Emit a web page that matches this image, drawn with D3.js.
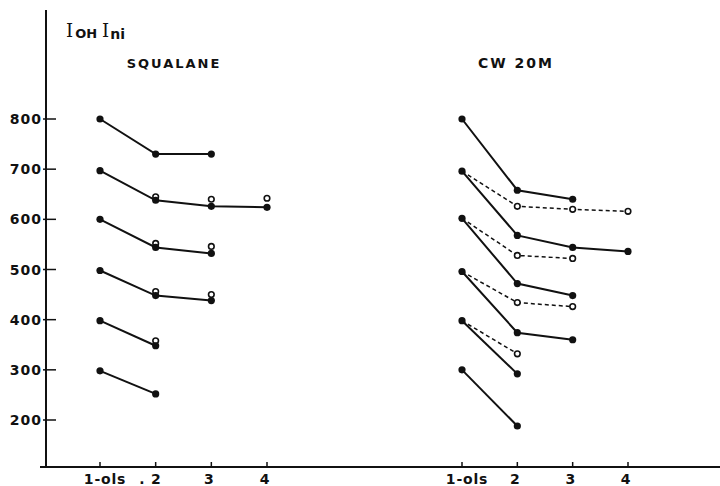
<!DOCTYPE html>
<html>
<head>
<meta charset="utf-8">
<script src="https://cdn.jsdelivr.net/npm/d3@7"></script>
<style>
  body { margin: 0; background: #fff; }
  svg { display: block; }
  text { font-family: "DejaVu Sans", sans-serif; font-weight: bold; fill: #111; }
</style>
</head>
<body>
<div id="chart"></div>
<script>
// y tick values
const yTicks = [200, 300, 400, 500, 600, 700, 800];
// x positions (plate number) and their labels per panel
const xSteps = [1, 2, 3, 4];
const squalaneLabels = ["1-ols", ". 2", "3", "4"];
const cwLabels = ["1-ols", "2", "3", "4"];

// SQUALANE: solid series, index i -> x step i+1
const squalaneSolid = [
    [800, 730, 730],
    [697, 638, 626, 624],
    [600, 544, 532],
    [498, 448, 438],
    [398, 348],
    [298, 252]
];
// SQUALANE: open circles, not joined [step, value]
const squalaneOpen = [
    [2, 645], [3, 640], [4, 642],
    [2, 552], [3, 546],
    [2, 456], [3, 450],
    [2, 358]
];

// CW 20M: solid series
const cwSolid = [
    [800, 658, 640],
    [696, 568, 544, 536],
    [602, 472, 448],
    [496, 374, 360],
    [398, 292],
    [300, 188]
];
// CW 20M: dashed series (open circles after first point)
const cwDashed = [
    [696, 626, 620, 616],
    [602, 528, 522],
    [496, 434, 426],
    [398, 332]
];

const width = 720, height = 486;

const svg = d3.select("#chart")
    .append("svg")
    .attr("width", width)
    .attr("height", height);

const y = d3.scaleLinear().domain([200, 800]).range([420, 119]);
const xLeft = d3.scaleLinear().domain([1, 4]).range([100, 267]);
const xRight = d3.scaleLinear().domain([1, 4]).range([462, 628]);

const axisX = 46, baseY = 467;

// y axis line
svg.append("line")
    .attr("x1", axisX).attr("x2", axisX)
    .attr("y1", 10).attr("y2", baseY + 1)
    .attr("stroke", "#111").attr("stroke-width", 2);

// y ticks
yTicks.forEach(v => {
    svg.append("line")
        .attr("x1", axisX - 3).attr("x2", axisX + 10)
        .attr("y1", y(v)).attr("y2", y(v))
        .attr("stroke", "#111").attr("stroke-width", 1.5);
    svg.append("text")
        .attr("x", axisX - 4)
        .attr("y", y(v) + 5)
        .attr("text-anchor", "end")
        .style("font-size", "14px")
        .style("letter-spacing", "1px")
        .text(v);
});

// x axis line
svg.append("line")
    .attr("x1", 40).attr("x2", width)
    .attr("y1", baseY).attr("y2", baseY)
    .attr("stroke", "#111").attr("stroke-width", 2);

// x ticks and labels for both panels
[[xLeft, squalaneLabels], [xRight, cwLabels]].forEach(([xs, labels]) => {
    xSteps.forEach((s, i) => {
        svg.append("line")
            .attr("x1", xs(s)).attr("x2", xs(s))
            .attr("y1", baseY - 5).attr("y2", baseY)
            .attr("stroke", "#111").attr("stroke-width", 1.5);
        const lab = labels[i];
        const t = svg.append("text")
            .attr("y", baseY + 17)
            .style("font-size", "14px")
            .style("letter-spacing", "0.8px")
            .text(lab);
        if (lab.startsWith(".")) {
            t.attr("x", xs(s) + 6).attr("text-anchor", "end");
        } else if (i === 0) {
            t.attr("x", xs(s) + 5).attr("text-anchor", "middle");
        } else {
            t.attr("x", xs(s) - 2).attr("text-anchor", "middle");
        }
    });
});

// axis title I_OH I_ni
const title = svg.append("text")
    .attr("x", 66)
    .attr("y", 37);
title.append("tspan")
    .style("font-family", "'DejaVu Serif', serif")
    .style("font-weight", "normal")
    .style("font-size", "18px")
    .text("I");
title.append("tspan")
    .attr("dx", 2)
    .attr("dy", 1)
    .style("font-size", "13px")
    .text("OH");
title.append("tspan")
    .attr("dx", 5)
    .attr("dy", -1)
    .style("font-family", "'DejaVu Serif', serif")
    .style("font-weight", "normal")
    .style("font-size", "18px")
    .text("I");
title.append("tspan")
    .attr("dx", 1)
    .attr("dy", 2)
    .style("font-size", "14px")
    .text("ni");

// panel names
svg.append("text")
    .attr("x", 174).attr("y", 68)
    .attr("text-anchor", "middle")
    .style("font-size", "13px")
    .style("letter-spacing", "2px")
    .text("SQUALANE");
svg.append("text")
    .attr("x", 516).attr("y", 68)
    .attr("text-anchor", "middle")
    .style("font-size", "14px")
    .style("letter-spacing", "2px")
    .text("CW 20M");

const line = xs => d3.line()
    .x((d, i) => xs(i + 1))
    .y(d => y(d));

function drawSolid(series, xs) {
    series.forEach(vals => {
        svg.append("path")
            .datum(vals)
            .attr("d", line(xs))
            .attr("fill", "none")
            .attr("stroke", "#111")
            .attr("stroke-width", 2);
        svg.selectAll(null)
            .data(vals)
            .enter()
            .append("circle")
            .attr("cx", (d, i) => xs(i + 1))
            .attr("cy", d => y(d))
            .attr("r", 3.6)
            .attr("fill", "#111");
    });
}

function drawOpen(cx, cy) {
    svg.append("circle")
        .attr("cx", cx).attr("cy", cy)
        .attr("r", 2.8)
        .attr("fill", "#fff")
        .attr("stroke", "#111")
        .attr("stroke-width", 1.6);
}

// squalane
squalaneOpen.forEach(([s, v]) => drawOpen(xLeft(s), y(v)));
drawSolid(squalaneSolid, xLeft);

// cw 20m dashed
cwDashed.forEach(vals => {
    svg.append("path")
        .datum(vals)
        .attr("d", line(xRight))
        .attr("fill", "none")
        .attr("stroke", "#111")
        .attr("stroke-width", 1.5)
        .attr("stroke-dasharray", "4,3");
    vals.slice(1).forEach((v, i) => drawOpen(xRight(i + 2), y(v)));
});
drawSolid(cwSolid, xRight);
</script>
</body>
</html>
